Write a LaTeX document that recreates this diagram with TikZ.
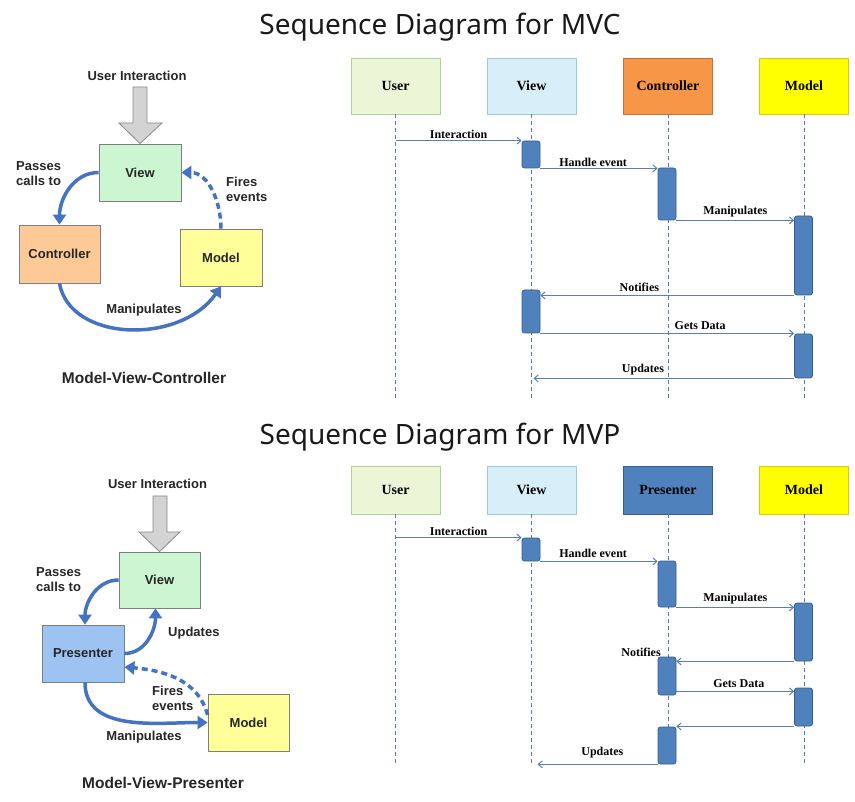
\documentclass[tikz,border=0pt]{standalone}
\usepackage{fontspec}
\setmainfont{Liberation Serif}
\newfontfamily\arialf{Liberation Sans}
\newfontfamily\titlef{Noto Sans}
\usetikzlibrary{arrows.meta,calc}
\definecolor{actfill}{HTML}{4F81BD}
\definecolor{actdraw}{HTML}{385D8A}
\definecolor{lifec}{HTML}{5577AA}
\definecolor{msgc}{HTML}{5B7FB5}
\definecolor{arrblue}{HTML}{4472C4}
\definecolor{boxgray}{HTML}{7F7F7F}
\definecolor{vgreen}{HTML}{CCF5D2}
\definecolor{cpeach}{HTML}{FCC997}
\definecolor{myellow}{HTML}{FFFF99}
\definecolor{pblue}{HTML}{9DC3F2}
\definecolor{grayfill}{HTML}{D3D3D3}
\definecolor{graydraw}{HTML}{8A8A8A}
\definecolor{uhfill}{HTML}{EBF6D6}
\definecolor{uhdraw}{HTML}{B5CF98}
\definecolor{vhfill}{HTML}{D8EFF9}
\definecolor{vhdraw}{HTML}{9CCBDD}
\definecolor{chfill}{HTML}{F79646}
\definecolor{chdraw}{HTML}{C0733A}
\definecolor{mhfill}{HTML}{FFFF00}
\definecolor{mhdraw}{HTML}{E0C21A}
\begin{document}
\begin{tikzpicture}[x=1pt,y=-1pt,
  lbox/.style={draw=boxgray, line width=0.8pt, inner sep=0pt, minimum width=82pt, minimum height=57pt, font=\arialf\bfseries\fontsize{13}{15}\selectfont, text=black!85},
  ltext/.style={font=\arialf\bfseries\fontsize{13}{15}\selectfont, text=black!85, inner sep=0pt, align=left},
  capt/.style={font=\arialf\bfseries\fontsize{15.5}{18}\selectfont, text=black!85, inner sep=0pt},
  titl/.style={font=\titlef\fontsize{28}{32}\selectfont, text=black!90, inner sep=0pt},
  bluearr/.style={draw=arrblue, line width=3.5pt, -{Triangle[length=10pt,width=13pt]}},
  grayarr/.style={draw=graydraw, fill=grayfill, line width=0.8pt, line join=miter},
  head/.style={draw, line width=0.9pt, inner sep=0pt, minimum width=89pt, font=\bfseries\fontsize{14}{16}\selectfont},
  act/.style={draw=actdraw, fill=actfill, line width=0.8pt, rounded corners=2.5pt, minimum width=18pt, inner sep=0pt},
  life/.style={draw=lifec, line width=1pt, dash pattern=on 4pt off 3pt},
  msg/.style={draw=msgc, line width=1pt, -{Straight Barb[length=4pt,width=7pt]}},
  mlab/.style={font=\bfseries\fontsize{12}{14}\selectfont, inner sep=1pt},
]
\useasboundingbox[fill=white] (0,0) rectangle (855,802);

% ---------------- Titles ----------------
\node[titl] (t1) at (440,27) {Sequence Diagram for MVC};
\node[titl] (t2) at (440,437) {Sequence Diagram for MVP};

% ---------------- MVC (left) ----------------
\node[lbox, fill=vgreen] (cv) at (140,172.5) {View};
\node[lbox, fill=cpeach, minimum width=81pt, minimum height=58pt] (cc) at (59.5,254) {Controller};
\node[lbox, fill=myellow] (cm) at (221,257.5) {Model};
\node[ltext] (cui) at (137,76) {User Interaction};
\draw[grayarr] (133,87) -- (147,87) -- (147,123) -- (162,123) -- (cv.north) -- (119,123) -- (133,123) -- cycle;
\draw[bluearr] (cv.west) to[out=180,in=90] (cc.north);
\draw[bluearr, dash pattern=on 6pt off 4pt] (cm.north) to[out=90,in=0] (cv.east);
\draw[bluearr] (cc.south) .. controls (70,342) and (180,345) .. (cm.south);
\node[ltext, anchor=west] (cpass) at (16,173.5) {Passes\\calls to};
\node[ltext, anchor=west] (cfire) at (226,189) {Fires\\events};
\node[ltext] (cmanip) at (144,310) {Manipulates};
\node[capt] (ccap) at (144,378) {Model-View-Controller};

% ---------------- MVC sequence ----------------
\node[head, fill=uhfill, draw=uhdraw, minimum height=56pt] (uh) at (395.5,86) {User};
\node[head, fill=vhfill, draw=vhdraw, minimum height=56pt] (vh) at (531.5,86) {View};
\node[head, fill=chfill, draw=chdraw, minimum height=56pt] (ch) at (668,86) {Controller};
\node[head, fill=mhfill, draw=mhdraw, minimum height=56pt] (mh) at (804,86) {Model};
\coordinate (bot1) at (0,398);
\draw[life] (uh.south) -- (uh.south |- bot1);
\draw[life] (vh.south) -- (vh.south |- bot1);
\draw[life] (ch.south) -- (ch.south |- bot1);
\draw[life] (mh.south) -- (mh.south |- bot1);

\node[act, minimum height=27pt] (va1) at (531,154.5) {};
\node[act, minimum height=52pt] (ca1) at (667,194) {};
\node[act, minimum height=79pt] (ma1) at (803.5,255.5) {};
\node[act, minimum height=43pt] (va2) at (531,311.5) {};
\node[act, minimum height=44pt] (ma2) at (803.5,356) {};

\draw[msg] (uh |- va1.north) -- node[mlab, above, pos=0.5] {Interaction} (va1.north west);
\draw[msg] (va1.south east) -- node[mlab, above, pos=0.45] {Handle event} (va1.south east -| ca1.west);
\draw[msg] (ca1.south east) -- node[mlab, above=2pt, pos=0.5] {Manipulates} (ca1.south east -| ma1.west);
\draw[msg] (ma1.south west) -- node[mlab, above=2pt, pos=0.61] {Notifies} (ma1.south west -| va2.east);
\draw[msg] (va2.south east) -- node[mlab, above=2pt, pos=0.63] {Gets Data} (va2.south east -| ma2.west);
\coordinate (uend1) at ([xshift=2pt]vh.south |- ma2.south);
\draw[msg] (ma2.south west) -- node[mlab, above=2pt, pos=0.58] {Updates} (uend1);

% ---------------- MVP (left) ----------------
\node[lbox, fill=vgreen, minimum width=81pt, minimum height=56pt] (pv) at (159.5,580) {View};
\node[lbox, fill=pblue] (pp) at (83,653.5) {Presenter};
\node[lbox, fill=myellow, minimum width=81pt] (pm) at (248.5,722.5) {Model};
\node[ltext] (pui) at (157.5,484) {User Interaction};
\draw[grayarr] (153,496) -- (167,496) -- (167,532) -- (180,532) -- (pv.north) -- (139,532) -- (153,532) -- cycle;
\draw[bluearr] (pv.west) to[out=180,in=90] ([xshift=2pt]pp.north);
\draw[bluearr] (pp.east) to[out=0,in=-90] ([xshift=-4pt]pv.south);
\draw[bluearr, dash pattern=on 6pt off 4pt] ([yshift=7.5pt]pm.west) to[out=105,in=-5] ([yshift=-13.5pt]pp.east);
\draw[bluearr] ([xshift=2pt]pp.south) to[out=-90,in=180] (pm.west);
\node[ltext, anchor=west] (ppass) at (36,580) {Passes\\calls to};
\node[ltext, anchor=west] (pupd) at (168,633) {Updates};
\node[ltext, anchor=west] (pfire) at (152,698) {Fires\\events};
\node[ltext] (pmanip) at (144,737) {Manipulates};
\node[capt] (pcap) at (163,783) {Model-View-Presenter};

% ---------------- MVP sequence ----------------
\node[head, fill=uhfill, draw=uhdraw, minimum height=48pt] (uhb) at (395.5,490) {User};
\node[head, fill=vhfill, draw=vhdraw, minimum height=48pt] (vhb) at (531.5,490) {View};
\node[head, fill=actfill, draw=actdraw, minimum height=48pt] (phb) at (668,490) {Presenter};
\node[head, fill=mhfill, draw=mhdraw, minimum height=48pt] (mhb) at (804,490) {Model};
\coordinate (bot2) at (0,765);
\draw[life] (uhb.south) -- (uhb.south |- bot2);
\draw[life] (vhb.south) -- (vhb.south |- bot2);
\draw[life] (phb.south) -- (phb.south |- bot2);
\draw[life] (mhb.south) -- (mhb.south |- bot2);

\node[act, minimum height=23pt] (va1b) at (531,549.5) {};
\node[act, minimum height=46pt] (pa1) at (667,584) {};
\node[act, minimum height=58pt] (ma1b) at (803.5,632) {};
\node[act, minimum height=38pt] (pa2) at (667,676) {};
\node[act, minimum height=38pt] (ma2b) at (803.5,707) {};
\node[act, minimum height=37pt] (pa3) at (667,745.5) {};

\draw[msg] (uhb |- va1b.north) -- node[mlab, above, pos=0.5] {Interaction} (va1b.north west);
\draw[msg] (va1b.south east) -- node[mlab, above=2pt, pos=0.45] {Handle event} (va1b.south east -| pa1.west);
\draw[msg] (pa1.south east) -- node[mlab, above=2pt, pos=0.5] {Manipulates} (pa1.south east -| ma1b.west);
\draw[msg] (ma1b.south west) -- (ma1b.south west -| pa2.east);
\node[mlab, anchor=south] (pnot) at (641,658) {Notifies};
\coordinate (gd) at ([yshift=4pt]pa2.south east);
\draw[msg] (gd) -- node[mlab, above=2pt, pos=0.53] {Gets Data} (gd -| ma2b.west);
\draw[msg] (ma2b.south west) -- (ma2b.south west -| pa3.east);
\coordinate (uend2) at ([xshift=6pt]vhb.south |- pa3.south);
\draw[msg] (pa3.south west) -- node[mlab, above=5pt, pos=0.46] {Updates} (uend2);
\end{tikzpicture}
\end{document}
